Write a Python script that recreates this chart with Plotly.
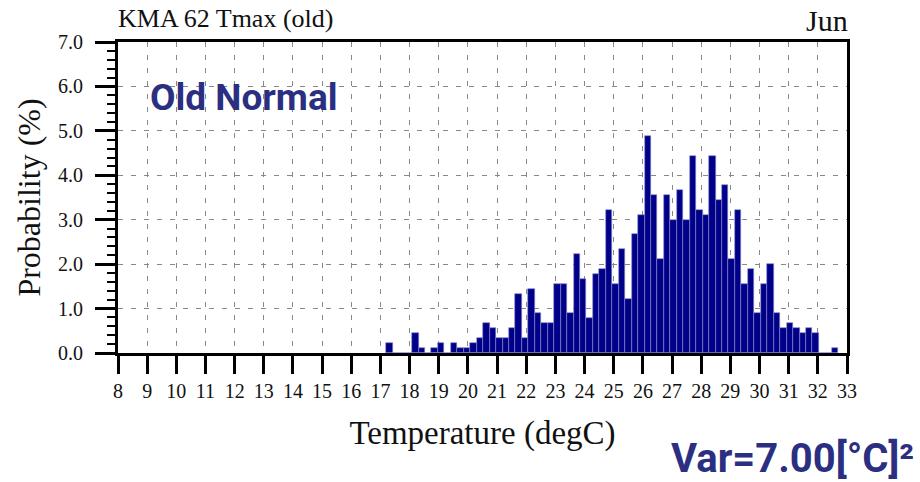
import numpy as np
import plotly.graph_objects as go

# Histogram of June daily Tmax (old normal), probability in %
bin_first = 17.2      # left edge of first bin (degC)
bin_last = 32.7       # right edge of last bin (degC)
prob = [0.22, 0.00, 0.00, 0.00, 0.44, 0.11, 0.00, 0.11, 0.22, 0.00,
        0.22, 0.11, 0.11, 0.22, 0.33, 0.67, 0.56, 0.33, 0.33, 0.56,
        1.33, 0.33, 1.44, 0.89, 0.67, 0.67, 1.56, 1.56, 0.89, 2.22,
        1.67, 0.78, 1.78, 1.89, 3.22, 1.56, 2.33, 1.22, 2.67, 3.11,
        4.89, 3.56, 2.11, 3.56, 3.00, 3.67, 3.00, 4.44, 3.22, 3.11,
        4.44, 3.44, 3.78, 2.11, 3.22, 1.56, 1.89, 0.89, 1.56, 2.00,
        0.89, 0.56, 0.67, 0.56, 0.44, 0.56, 0.44, 0.00, 0.00, 0.11]
x_ticks = list(range(8, 34))
y_ticks = [0, 1, 2, 3, 4, 5, 6, 7]

n_bins = len(prob)
bw = (bin_last - bin_first) / n_bins
centers = bin_first + (np.arange(n_bins) + 0.5) * bw

serif = "Liberation Serif, Times New Roman, serif"
navy_txt = "#2b2f82"
W, H = 920, 482
L, R, T, B = 118, 73, 42, 129
pw = W - L - R
ph = H - T - B


def px_x(x):
    return (x - L) / pw


def px_y(y):
    return (H - B - y) / ph


fig = go.Figure()
fig.add_trace(go.Bar(
    x=centers, y=prob, width=bw,
    marker=dict(color="#000088", line=dict(color="#8a8ad0", width=0.6)),
    showlegend=False,
))

axis_common = dict(
    showline=True, linecolor="black", linewidth=3, mirror=True,
    ticks="outside", tickcolor="black", tickwidth=3,
    showgrid=True, gridcolor="#888888", gridwidth=1, griddash="5px,8px",
    zeroline=False, automargin=False,
)

fig.update_layout(
    width=W, height=H,
    margin=dict(l=L, r=R, t=T, b=B),
    paper_bgcolor="white", plot_bgcolor="white",
    bargap=0,
    xaxis=dict(
        range=[8, 33], tickvals=x_ticks, ticklen=18,
        tickfont=dict(family=serif, size=20, color="#111111"),
        title=dict(text="Temperature (degC)", font=dict(family=serif, size=33, color="#111111"), standoff=20),
        **axis_common,
    ),
    yaxis=dict(
        range=[0, 7], tickvals=y_ticks, tickformat=".1f", ticklen=20,
        ticklabelstandoff=8,
        tickfont=dict(family=serif, size=20, color="#111111"),
        minor=dict(dtick=0.2, ticks="outside", ticklen=8, tickwidth=1.5, tickcolor="black", showgrid=False),
        title=dict(text="Probability (%)", font=dict(family=serif, size=32, color="#111111"), standoff=8),
        **axis_common,
    ),
    annotations=[
        dict(text="KMA 62 Tmax (old)", x=px_x(116), xanchor="left",
             y=px_y(18), yanchor="middle"),
        dict(text="Jun", x=px_x(850), xanchor="right",
             y=px_y(20), yanchor="middle"),
        dict(text="<b>Old Normal</b>", x=px_x(148), xanchor="left",
             y=px_y(97), yanchor="middle",
             font=dict(family="Roboto", size=37, color=navy_txt)),
        dict(text="<b>Var=7.00[°C]²</b>", x=px_x(916), xanchor="right",
             y=px_y(458), yanchor="middle",
             font=dict(family="Roboto", size=40, color=navy_txt)),
    ],
)
fig.update_annotations(xref="paper", yref="paper", showarrow=False)
fig.update_annotations(selector=dict(text="KMA 62 Tmax (old)"), font=dict(family=serif, size=26, color="#111111"))
fig.update_annotations(selector=dict(text="Jun"), font=dict(family=serif, size=30, color="#111111"))

fig.write_html("out.html", config={"displayModeBar": False},
               post_script="document.body.style.margin='0px';")
